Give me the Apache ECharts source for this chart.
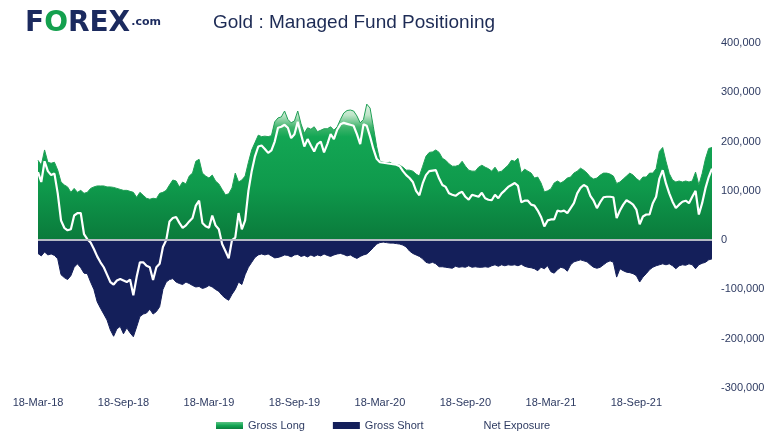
<!DOCTYPE html>
<html>
<head>
<meta charset="utf-8">
<script src="https://cdn.jsdelivr.net/npm/echarts@6/dist/echarts.min.js"></script>
<style>html,body{margin:0;padding:0;background:#fff}#c{width:770px;height:440px}</style>
</head>
<body>
<div id="c"></div>
<script>
// Weekly positioning (thousands of contracts), week 0 = 18-Mar-18
var tickLabels = ['18-Mar-18','18-Sep-18','18-Mar-19','18-Sep-19','18-Mar-20','18-Sep-20','18-Mar-21','18-Sep-21'];

var grossLong = [
162,152,183,158,156,158,142,118,112,108,97,105,97,101,95,97,105,108,110,110,110,108,108,107,105,103,101,101,99,97,87,97,91,85,83,
85,84,95,97,101,112,122,120,108,118,114,130,136,160,164,136,130,126,132,120,114,103,92,94,106,136,118,122,130,158,183,198,213,210,211,
210,212,240,248,250,262,245,238,242,262,236,217,228,225,230,220,223,226,226,230,223,230,245,258,263,264,262,252,238,245,276,268,230,190,
160,158,157,158,154,153,152,148,142,142,140,134,130,150,170,178,179,183,178,166,162,155,150,150,152,160,150,142,140,140,148,152,148,145,
140,148,138,140,146,152,162,160,166,136,144,140,136,126,128,116,98,100,104,116,120,116,120,126,128,136,140,146,142,136,128,124,126,132,
136,136,134,130,115,118,124,130,136,132,125,120,128,128,136,136,145,180,188,160,135,122,118,120,118,120,118,120,138,112,135,165,186,188
];

var grossShort = [
-27,-32,-24,-30,-28,-31,-38,-70,-76,-80,-72,-55,-48,-56,-67,-68,-85,-100,-125,-138,-150,-162,-182,-195,-180,-175,-190,-178,-188,-196,-176,-155,-150,-148,-140,
-150,-145,-135,-100,-85,-80,-78,-85,-88,-90,-85,-88,-92,-95,-94,-98,-96,-92,-95,-100,-104,-112,-118,-122,-110,-100,-85,-90,-70,-55,-45,-35,-30,-28,-30,
-28,-32,-36,-35,-33,-30,-31,-34,-30,-29,-33,-31,-34,-30,-33,-30,-32,-28,-31,-33,-30,-28,-27,-29,-32,-30,-34,-37,-33,-30,-28,-22,-15,-8,
-5,-4,-5,-6,-6,-7,-8,-10,-14,-22,-27,-30,-33,-38,-45,-47,-45,-48,-54,-54,-55,-56,-57,-53,-55,-54,-55,-52,-55,-54,-55,-55,-54,-55,
-52,-50,-53,-50,-52,-50,-51,-50,-52,-49,-53,-55,-56,-58,-62,-55,-58,-52,-64,-67,-60,-55,-57,-63,-50,-44,-42,-40,-42,-44,-50,-55,-57,-55,
-50,-45,-42,-45,-75,-58,-62,-65,-66,-68,-72,-85,-75,-68,-60,-55,-52,-50,-48,-50,-48,-52,-58,-52,-50,-51,-48,-50,-58,-50,-47,-45,-40,-38
];

var netExposure = [
138,118,160,140,132,135,95,40,25,20,22,50,55,55,12,2,-5,-18,-33,-45,-55,-70,-85,-90,-82,-79,-82,-85,-80,-112,-75,-45,-45,-52,-55,
-81,-55,-48,-14,0,38,45,47,35,25,30,38,45,70,80,35,28,25,50,30,22,-8,-22,-37,0,5,55,22,40,100,140,170,190,192,185,
177,182,200,228,230,234,228,207,215,240,215,190,205,192,180,195,200,178,195,215,205,224,235,238,236,234,232,215,195,235,232,210,185,165,
158,157,156,155,154,153,150,140,132,126,118,100,91,115,132,140,141,142,125,112,108,95,92,90,95,98,88,82,92,90,88,96,85,82,
81,92,85,95,101,108,112,116,110,77,80,80,72,70,60,47,28,40,42,42,60,58,60,55,65,75,95,106,112,108,90,80,65,77,
87,88,88,87,45,60,72,81,77,72,62,32,48,52,52,75,88,125,142,115,95,78,65,72,78,80,75,88,100,52,75,105,128,145
];

// weekly category dates
var weeks = [];
(function(){
  var d = new Date(Date.UTC(2018, 2, 18));
  for (var i = 0; i < grossLong.length; i++) {
    var t = new Date(d.getTime() + i * 7 * 86400000);
    weeks.push(t.toISOString().slice(0, 10));
  }
})();

var FONT = "'Liberation Sans', Arial, sans-serif";
var TXT = '#2e3b62';
var NAVY = '#141f5a';

var chart = echarts.init(document.getElementById('c'), null, {renderer: 'canvas'});

var longGrad = new echarts.graphic.LinearGradient(0, 0, 0, 1, [
  {offset: 0, color: '#e0f3e5'},
  {offset: 0.08, color: '#bfe5c9'},
  {offset: 0.17, color: '#3fb46c'},
  {offset: 0.24, color: '#13a654'},
  {offset: 0.6, color: '#0f9a4c'},
  {offset: 1, color: '#0a7a3b'}
]);
var legendGrad = new echarts.graphic.LinearGradient(0, 0, 0, 1, [
  {offset: 0, color: '#5cc384'},
  {offset: 0.5, color: '#13a654'},
  {offset: 1, color: '#0b7d3d'}
]);

chart.setOption({
  animation: false,
  grid: {left: 38, right: 58, top: 43, bottom: 52},
  graphic: [
    {
      type: 'text', left: 25, top: 10,
      style: {
        text: '{a|F}{b|O}{a|REX}{c|.com}',
        rich: {
          a: {fontFamily: "'DejaVu Sans', sans-serif", fontWeight: 'bold', fontSize: 28, fill: '#1b2a5e'},
          b: {fontFamily: "'DejaVu Sans', sans-serif", fontWeight: 'bold', fontSize: 28, fill: '#14a04e'},
          c: {fontFamily: "'DejaVu Sans', sans-serif", fontWeight: 'bold', fontSize: 11, fill: '#1b2a5e', padding: [0, 0, 3, 1]}
        }
      }
    },
    {
      type: 'text', left: 213, top: 13,
      style: {text: 'Gold : Managed Fund Positioning', fontFamily: "'Liberation Sans', Arial, sans-serif", fontSize: 19, fill: '#1d2b55'}
    }
  ],
  legend: {
    left: 216, top: 420, padding: 0,
    itemWidth: 27, itemHeight: 7, itemGap: 28,
    icon: 'rect',
    textStyle: {color: TXT, fontSize: 11, fontFamily: FONT},
    data: [
      {name: 'Gross Long', itemStyle: {color: legendGrad}},
      {name: 'Gross Short', itemStyle: {color: NAVY}},
      {name: 'Net Exposure', itemStyle: {color: '#ffffff'}}
    ],
    selectedMode: false
  },
  xAxis: {
    type: 'category',
    data: weeks,
    boundaryGap: false,
    axisLine: {show: false, onZero: false},
    axisTick: {show: false},
    splitLine: {show: false},
    axisLabel: {
      interval: 25, margin: 9, color: TXT, fontSize: 11, fontFamily: FONT,
      formatter: function (v, i) { return i % 26 === 0 ? (tickLabels[i / 26] || '') : ''; }
    }
  },
  yAxis: {
    type: 'value', position: 'right',
    min: -300, max: 400, interval: 100,
    axisLine: {show: false}, axisTick: {show: false}, splitLine: {show: false},
    axisLabel: {
      margin: 9, color: TXT, fontSize: 11, fontFamily: FONT,
      formatter: function (v) { return v === 0 ? '0' : (v < 0 ? '-' : '') + Math.abs(v) + ',000'; }
    }
  },
  series: [
    {
      name: 'Gross Long', type: 'line', data: grossLong, symbol: 'none',
      itemStyle: {color: '#13a654'},
      lineStyle: {color: '#1f9f55', width: 1},
      areaStyle: {color: longGrad, opacity: 1},
      z: 1
    },
    {
      name: 'Gross Short', type: 'line', data: grossShort, symbol: 'none',
      itemStyle: {color: NAVY},
      lineStyle: {color: NAVY, width: 1},
      areaStyle: {color: NAVY, opacity: 1},
      markLine: {
        silent: true, symbol: 'none', label: {show: false},
        lineStyle: {color: '#b5bac4', width: 2, type: 'solid'},
        data: [{yAxis: 0}]
      },
      z: 2
    },
    {
      name: 'Net Exposure', type: 'line', data: netExposure, symbol: 'none',
      itemStyle: {color: '#ffffff'},
      lineStyle: {color: '#ffffff', width: 2.2},
      z: 3
    }
  ]
});
</script>
</body>
</html>
